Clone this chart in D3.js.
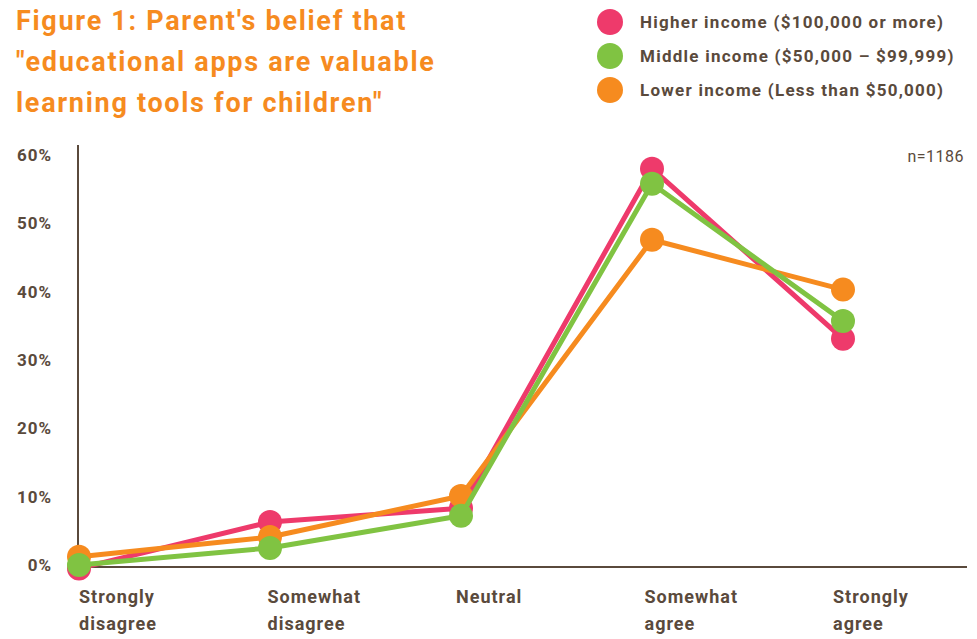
<!DOCTYPE html>
<html>
<head>
<meta charset="utf-8">
<script src="https://cdn.jsdelivr.net/npm/d3@7"></script>
<style>
  body { margin: 0; background: #fff; }
  svg { display: block; font-family: "Roboto", "DejaVu Sans", sans-serif; }
</style>
</head>
<body>
<div id="chart"></div>
<script>
// categories and series
const categories = ["Strongly disagree", "Somewhat disagree", "Neutral", "Somewhat agree", "Strongly agree"];
const categoryLines = [["Strongly", "disagree"], ["Somewhat", "disagree"], ["Neutral"], ["Somewhat", "agree"], ["Strongly", "agree"]];
const seriesNames = ["Higher income ($100,000 or more)", "Middle income ($50,000 – $99,999)", "Lower income (Less than $50,000)"];
const higherIncome = [-0.5, 6.3, 8.3, 58.0, 33.1];
const middleIncome = [0.0, 2.5, 7.2, 55.8, 35.7];
const lowerIncome = [1.2, 4.1, 10.1, 47.6, 40.3];
const yTicks = [0, 10, 20, 30, 40, 50, 60];
const titleLines = ["Figure 1: Parent's belief that", "\"educational apps are valuable", "learning tools for children\""];
const note = "n=1186";

const colors = ["#ee3a6b", "#80c342", "#f68b1f"];
const textColor = "#5a4a3c";
const W = 977, H = 639;

const svg = d3.select("#chart").append("svg").attr("width", W).attr("height", H);

const x = d3.scalePoint().domain(categories).range([79, 843]);
const xLabel = d3.scalePoint().domain(categories).range([79, 833]);
const y = d3.scaleLinear().domain([0, 60]).range([565, 155]);

// title
svg.append("g").selectAll("text").data(titleLines).enter().append("text")
  .attr("x", 16).attr("y", (d, i) => 30 + i * 41)
  .attr("fill", "#f68b1f").attr("font-size", 27).attr("font-weight", "bold")
  .attr("letter-spacing", 1.7)
  .text(d => d);

// legend
const legend = svg.append("g").selectAll("g").data(seriesNames).enter().append("g")
  .attr("transform", (d, i) => `translate(610,${22 + i * 34})`);
legend.append("circle").attr("r", 13).attr("fill", (d, i) => colors[i]);
legend.append("text").attr("x", 30).attr("y", 6)
  .attr("fill", textColor).attr("font-size", 17).attr("font-weight", "bold")
  .attr("letter-spacing", 1.25)
  .text(d => d);

// axes
const yAxis = d3.axisLeft(y).tickValues(yTicks).tickSize(0).tickFormat(d => d + "%");
const gy = svg.append("g").attr("transform", "translate(55,0)").call(yAxis);
gy.select(".domain").remove();
gy.selectAll("text").attr("fill", textColor).attr("font-size", 17).attr("font-weight", "bold")
  .attr("font-family", "Roboto, sans-serif").attr("letter-spacing", 1);

svg.append("line").attr("x1", 78).attr("x2", 78).attr("y1", 145).attr("y2", y(0) + 2)
  .attr("stroke", textColor).attr("stroke-width", 2);
svg.append("line").attr("x1", 78).attr("x2", 967).attr("y1", y(0) + 2).attr("y2", y(0) + 2)
  .attr("stroke", textColor).attr("stroke-width", 2);

// category labels
const cat = svg.append("g").selectAll("text").data(categories).enter().append("text")
  .attr("x", d => xLabel(d))
  .attr("fill", textColor).attr("font-size", 18).attr("font-weight", "bold")
  .attr("letter-spacing", 1);
cat.selectAll("tspan").data((d, i) => categoryLines[i]).enter().append("tspan")
  .attr("x", function() { return d3.select(this.parentNode).attr("x"); })
  .attr("y", (d, j) => 603 + j * 27)
  .text(d => d);

// note
svg.append("text").attr("x", 964).attr("y", 162).attr("text-anchor", "end")
  .attr("fill", textColor).attr("font-size", 16).attr("letter-spacing", 0.5).text(note);

// series, drawn pink, orange, green
const series = [
  { values: higherIncome, color: colors[0] },
  { values: lowerIncome, color: colors[2] },
  { values: middleIncome, color: colors[1] }
];
const line = d3.line().x((d, i) => x(categories[i])).y(d => y(d));

series.forEach(s => {
  const g = svg.append("g");
  g.append("path").datum(s.values).attr("d", line)
    .attr("fill", "none").attr("stroke", s.color).attr("stroke-width", 5)
    .attr("stroke-linejoin", "round");
  g.selectAll("circle").data(s.values).enter().append("circle")
    .attr("cx", (d, i) => x(categories[i])).attr("cy", d => y(d))
    .attr("r", 12).attr("fill", s.color);
});
</script>
</body>
</html>
